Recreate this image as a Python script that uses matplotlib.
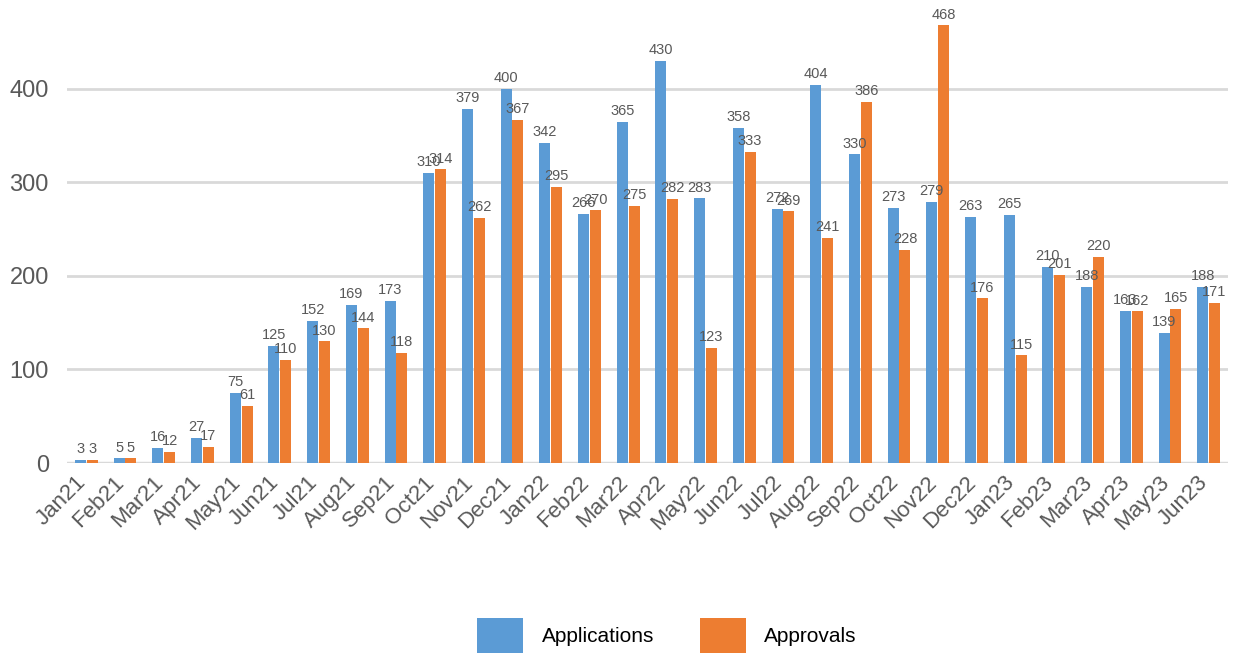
import numpy as np
import matplotlib.pyplot as plt
import matplotlib.transforms as mtransforms

months = ['Jan21', 'Feb21', 'Mar21', 'Apr21', 'May21', 'Jun21', 'Jul21', 'Aug21',
          'Sep21', 'Oct21', 'Nov21', 'Dec21', 'Jan22', 'Feb22', 'Mar22', 'Apr22',
          'May22', 'Jun22', 'Jul22', 'Aug22', 'Sep22', 'Oct22', 'Nov22', 'Dec22',
          'Jan23', 'Feb23', 'Mar23', 'Apr23', 'May23', 'Jun23']
applications = [3, 5, 16, 27, 75, 125, 152, 169, 173, 310, 379, 400, 342, 266, 365,
                430, 283, 358, 272, 404, 330, 273, 279, 263, 265, 210, 188, 163, 139, 188]
approvals = [3, 5, 12, 17, 61, 110, 130, 144, 118, 314, 262, 367, 295, 270, 275,
             282, 123, 333, 269, 241, 386, 228, 468, 176, 115, 201, 220, 162, 165, 171]

blue = '#5B9BD5'
orange = '#ED7D31'
label_color = '#595959'
font = 'Liberation Sans'

fig = plt.figure(figsize=(12.35, 6.55), dpi=100)
ax = fig.add_axes([67 / 1235, 192 / 655, (1228 - 67) / 1235, 463 / 655])

x = np.arange(len(months))
w = 0.285
b1 = ax.bar(x - w / 2 - 0.01, applications, w, color=blue, label='Applications', zorder=3)
b2 = ax.bar(x + w / 2 + 0.01, approvals, w, color=orange, label='Approvals', zorder=3)

# value labels on top of every bar
for bars in (b1, b2):
    for rect in bars:
        h = rect.get_height()
        ax.text(rect.get_x() + rect.get_width() / 2, h + 4, f'{int(h)}',
                ha='center', va='bottom', fontsize=10.5, color=label_color,
                family=font, zorder=4)

ax.set_xlim(-0.5, len(months) - 0.5)
ax.set_ylim(0, 495)
ax.set_yticks([0, 100, 200, 300, 400])
ax.yaxis.grid(True, color='#D9D9D9', linewidth=2, zorder=0)
ax.set_axisbelow(True)
for s in ax.spines.values():
    s.set_visible(False)
ax.axhline(0, color='#D9D9D9', linewidth=2.5, zorder=1)
ax.tick_params(axis='both', length=0)
ax.tick_params(axis='y', labelsize=17, labelcolor=label_color, pad=13)
for t in ax.get_yticklabels():
    t.set_family(font)

ax.set_xticks(x)
ax.set_xticklabels(months, rotation=45, ha='right', rotation_mode='anchor',
                   fontsize=16, color=label_color, family=font)
shift = mtransforms.ScaledTranslation(-8 / 72, -3 / 72, fig.dpi_scale_trans)
for t in ax.get_xticklabels():
    t.set_transform(t.get_transform() + shift)

fig.legend(handles=[b1, b2], loc='center', bbox_to_anchor=(0.54, 0.03), ncol=2,
           frameon=False, handlelength=2.2, handleheight=2.2,
           handletextpad=0.9, columnspacing=2.2,
           prop={'family': font, 'size': 15})

fig.savefig('out.png', dpi=100, facecolor='white')
